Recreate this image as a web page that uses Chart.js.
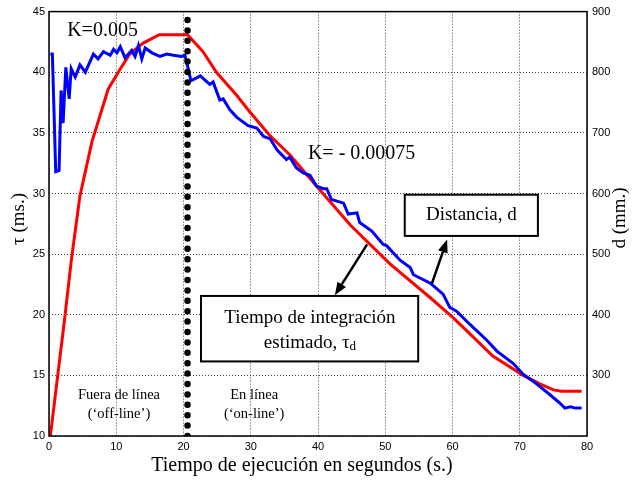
<!DOCTYPE html>
<html>
<head>
<meta charset="utf-8">
<script src="https://cdn.jsdelivr.net/npm/chart.js@4/dist/chart.umd.min.js"></script>
<style>
  body { margin: 0; background: #fff; }
  .chart { width: 632px; height: 482px; }
</style>
</head>
<body>
<div class="chart"><canvas id="tau-chart" width="632" height="482"></canvas></div>
<script>

// tiempo estimado (rojo), eje izquierdo en ms
const timeRed = [0.2, 1.3, 2.4, 3.3, 4.6, 6.4, 8.8, 10.3, 12, 14, 16.4, 20.6, 22.9, 24.9, 27.9, 29.9, 32.8, 35.8, 39.8, 44.8, 50.7, 56.7, 60, 61.9, 66, 70.5, 73, 75, 76.2, 79.2];
const tauRed = [10, 15, 20, 24.4, 29.8, 34.3, 38.6, 40, 41.5, 42.4, 43.1, 43.1, 41.7, 40.0, 38.1, 36.7, 34.8, 33.2, 30.6, 27.4, 24.2, 21.4, 19.8, 18.8, 16.6, 15, 14.3, 13.8, 13.7, 13.7];

// distancia medida (azul), eje derecho en mm
const timeBlue = [0.2, 0.5, 1.0, 1.5, 1.8, 2.1, 2.5, 3.0, 3.3, 3.9, 4.6, 5.4, 6.6, 7.3, 8.1, 9.1, 9.6, 10.1, 10.6, 11.3, 12.3, 12.8, 13.3, 13.8, 14.3, 15.3, 16.5, 17.5, 18.5, 19.7, 20.2, 20.7, 21.1, 22.5, 23.9, 24.4, 25.4, 25.9, 26.9, 27.9, 29.6, 30.9, 31.9, 32.9, 33.9, 35.3, 35.8, 36.8, 37.8, 38.8, 39.8, 40.8, 41.3, 42.0, 43.8, 44.5, 45.8, 46.2, 48.0, 49.7, 50.2, 52.2, 53.7, 54.2, 56.7, 58.6, 59.6, 60.6, 62.6, 65.1, 66.6, 69.0, 70.5, 72.5, 74.5, 76.0, 76.7, 77.5, 78.3, 79.2];
const distBlue = [830, 830, 636, 638, 770, 716, 808, 756, 806, 792, 812, 800, 830, 822, 834, 828, 838, 832, 842, 824, 836, 826, 844, 822, 840, 832, 826, 830, 828, 826, 828, 806, 786, 794, 780, 784, 754, 756, 738, 726, 712, 708, 694, 690, 672, 656, 660, 642, 634, 630, 612, 608, 608, 590, 584, 566, 568, 552, 538, 516, 514, 490, 478, 466, 452, 434, 412, 406, 384, 358, 340, 320, 302, 286, 268, 254, 246, 248, 246, 246];

// cambio off-line / on-line
const switchTime = 20.6;

const xTicks = [0, 10, 20, 30, 40, 50, 60, 70, 80];
const tauTicks = [10, 15, 20, 25, 30, 35, 40, 45];
const distTicks = [200, 300, 400, 500, 600, 700, 800, 900];

const sans = 'Liberation Sans, Arial, sans-serif';
const serif = 'Liberation Serif, Times New Roman, serif';

function drawArrow(ctx, x1, y1, x2, y2) {
    const ang = Math.atan2(y2 - y1, x2 - x1),
          len = 13, half = 5;
    const bx = x2 - len * Math.cos(ang),
          by = y2 - len * Math.sin(ang);
    ctx.beginPath();
    ctx.moveTo(x1, y1);
    ctx.lineTo(bx, by);
    ctx.lineWidth = 2.5;
    ctx.stroke();
    ctx.beginPath();
    ctx.moveTo(x2, y2);
    ctx.lineTo(bx + half * Math.sin(ang), by - half * Math.cos(ang));
    ctx.lineTo(bx - half * Math.sin(ang), by + half * Math.cos(ang));
    ctx.closePath();
    ctx.fill();
}

const annotations = {
    id: 'annotations',
    afterDraw(chart) {
        const {ctx, chartArea: a, scales: {x, y}} = chart;
        const px = v => x.getPixelForValue(v),
              py = v => y.getPixelForValue(v);

        ctx.save();
        ctx.fillStyle = '#000';
        ctx.strokeStyle = '#000';

        // marco
        ctx.lineWidth = 1.5;
        ctx.strokeRect(a.left, a.top, a.width, a.height);

        ctx.textBaseline = 'middle';

        // constantes
        ctx.font = '20px ' + serif;
        ctx.textAlign = 'left';
        ctx.fillText('K=0.005', px(2.7), py(43.4));
        ctx.fillText('K= - 0.00075', px(38.5), py(33.3));

        // zonas
        ctx.font = '14.5px ' + serif;
        ctx.textAlign = 'center';
        ctx.fillText('Fuera de línea', px(10.4), py(13.4));
        ctx.fillText('(‘off-line’)', px(10.4), py(11.8));
        ctx.fillText('En línea', px(30.5), py(13.4));
        ctx.fillText('(‘on-line’)', px(30.5), py(11.8));

        // cajas
        ctx.lineWidth = 2;
        ctx.fillStyle = '#fff';
        ctx.fillRect(px(52.9), py(29.9), px(72.7) - px(52.9), py(26.5) - py(29.9));
        ctx.strokeRect(px(52.9), py(29.9), px(72.7) - px(52.9), py(26.5) - py(29.9));
        ctx.fillRect(px(22.6), py(21.55), px(54.9) - px(22.6), py(16.15) - py(21.55));
        ctx.strokeRect(px(22.6), py(21.55), px(54.9) - px(22.6), py(16.15) - py(21.55));

        ctx.fillStyle = '#000';
        ctx.font = '19px ' + serif;
        ctx.fillText('Distancia, d', px(62.8), py(28.2));
        ctx.fillText('Tiempo de integración', px(38.8), py(19.75));

        // estimado, τd con subindice
        const main = 'estimado, τ';
        const wMain = ctx.measureText(main).width;
        ctx.font = '13px ' + serif;
        const wSub = ctx.measureText('d').width;
        const x0 = px(38.8) - (wMain + wSub) / 2;
        ctx.textAlign = 'left';
        ctx.font = '19px ' + serif;
        ctx.fillText(main, x0, py(17.7));
        ctx.font = '13px ' + serif;
        ctx.fillText('d', x0 + wMain, py(17.7) + 4);

        // flechas
        drawArrow(ctx, px(47.3), py(25.8), px(42.5), py(21.6));
        drawArrow(ctx, px(56.95), py(22.6), px(59.2), py(26.2));

        // titulos de ejes
        ctx.font = '20px ' + serif;
        ctx.textAlign = 'center';
        ctx.fillText('Tiempo de ejecución en segundos (s.)', 302, 466);

        ctx.font = '19px ' + serif;
        ctx.save();
        ctx.translate(19, 219);
        ctx.rotate(-Math.PI / 2);
        ctx.fillText('τ (ms.)', 0, 0);
        ctx.restore();

        ctx.save();
        ctx.translate(620, 218);
        ctx.rotate(-Math.PI / 2);
        ctx.fillText('d (mm.)', 0, 0);
        ctx.restore();

        ctx.restore();
    }
};

const gridStyle = {
    color: '#444',
    lineWidth: 1,
    drawTicks: false
};

const ctx = document.getElementById('tau-chart').getContext('2d');
const tauChart = new Chart(ctx, {
    type: 'line',
    data: {
        datasets: [
            {
                label: 'cambio',
                data: [{x: switchTime, y: tauTicks[0]}, {x: switchTime, y: tauTicks[tauTicks.length - 1]}],
                yAxisID: 'y',
                borderColor: '#000',
                borderWidth: 6.5,
                borderDash: [0, 10.4],
                borderCapStyle: 'round',
                pointRadius: 0
            },
            {
                label: 'Distancia, d',
                data: timeBlue.map((t, i) => ({x: t, y: distBlue[i]})),
                yAxisID: 'y1',
                borderColor: '#0000ff',
                borderWidth: 3,
                pointRadius: 0,
                tension: 0
            },
            {
                label: 'Tiempo de integración estimado',
                data: timeRed.map((t, i) => ({x: t, y: tauRed[i]})),
                yAxisID: 'y',
                borderColor: '#ff0000',
                borderWidth: 3,
                pointRadius: 0,
                tension: 0
            }
        ]
    },
    options: {
        responsive: false,
        animation: false,
        layout: {
            padding: {top: 9, left: 0, right: 0, bottom: 0}
        },
        plugins: {
            legend: {display: false},
            tooltip: {enabled: false}
        },
        scales: {
            x: {
                type: 'linear',
                min: xTicks[0],
                max: xTicks[xTicks.length - 1],
                afterBuildTicks: s => { s.ticks = xTicks.map(v => ({value: v})); },
                afterFit: s => { s.height = 46; },
                border: {display: false, dash: [1, 2]},
                grid: gridStyle,
                ticks: {
                    padding: 4,
                    color: '#000',
                    maxRotation: 0,
                    font: {family: sans, size: 11}
                }
            },
            y: {
                position: 'left',
                min: tauTicks[0],
                max: tauTicks[tauTicks.length - 1],
                afterBuildTicks: s => { s.ticks = tauTicks.map(v => ({value: v})); },
                afterFit: s => { s.width = 49; },
                border: {display: false, dash: [1, 2]},
                grid: gridStyle,
                ticks: {
                    padding: 4,
                    color: '#000',
                    font: {family: sans, size: 11}
                }
            },
            y1: {
                position: 'right',
                min: distTicks[0],
                max: distTicks[distTicks.length - 1],
                afterBuildTicks: s => { s.ticks = distTicks.map(v => ({value: v})); },
                afterFit: s => { s.width = 45; },
                border: {display: false},
                grid: {display: false, drawTicks: false},
                ticks: {
                    padding: 5,
                    color: '#000',
                    font: {family: sans, size: 11},
                    callback: v => v === distTicks[0] ? '' : v
                }
            }
        }
    },
    plugins: [annotations]
});

</script>
</body>
</html>
